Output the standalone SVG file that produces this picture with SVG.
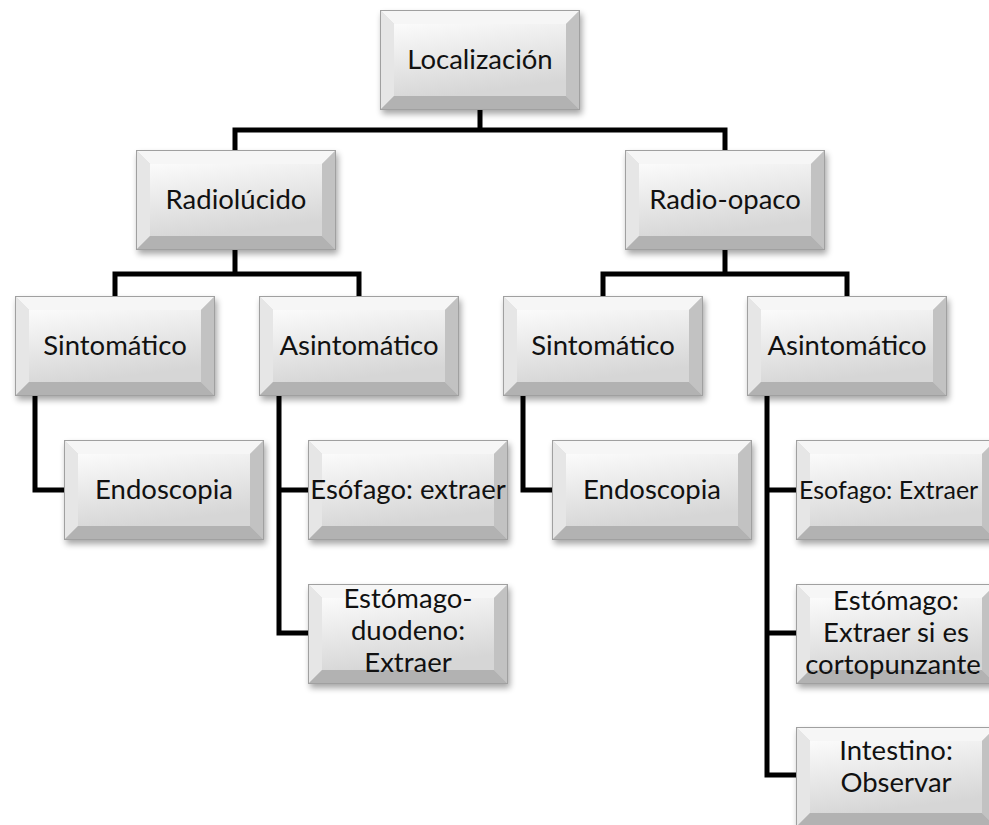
<svg xmlns="http://www.w3.org/2000/svg" xmlns:xlink="http://www.w3.org/1999/xlink" width="989" height="825" viewBox="0 0 989 825">
<style>
  .lbl { font-family: Lato, "Liberation Sans", sans-serif; font-size: 27.5px; fill: #111; text-anchor: middle; }
  .conn { fill: none; stroke: #000; stroke-width: 5; stroke-linejoin: miter; stroke-linecap: square; }
</style>
<defs>
  <linearGradient id="face" x1="0" y1="0" x2="0.3" y2="1">
    <stop offset="0" stop-color="#fbfbfb"/>
    <stop offset="1" stop-color="#d6d6d6"/>
  </linearGradient>
  <filter id="sh" x="-10%" y="-10%" width="120%" height="130%">
    <feGaussianBlur stdDeviation="3"/>
  </filter>
  <g id="box">
    <rect x="2" y="4" width="200" height="100" fill="#000" opacity="0.35" filter="url(#sh)"/>
    <rect x="0" y="0" width="200" height="100" fill="#d9d9d9"/>
    <polygon points="0,0 200,0 186,14 14,14" fill="#f6f6f6"/>
    <polygon points="0,0 14,14 14,86 0,100" fill="#e6e6e6"/>
    <polygon points="200,0 200,100 186,86 186,14" fill="#c2c2c2"/>
    <polygon points="0,100 14,86 186,86 200,100" fill="#b2b2b2"/>
    <rect x="14" y="14" width="172" height="72" fill="url(#face)"/>
    <rect x="0.5" y="0.5" width="199" height="99" fill="none" stroke="#a0a0a0" stroke-width="1"/>
  </g>
</defs>
<rect width="989" height="825" fill="#fff"/>
<g id="connectors">
  <path class="conn" d="M480,110 V130 M235,150 V130 H725 V150"/>
  <path class="conn" d="M235,250 V274 M115,296 V274 H359 V296"/>
  <path class="conn" d="M725,250 V274 M603,296 V274 H847 V296"/>
  <path class="conn" d="M35,396 V490 H64"/>
  <path class="conn" d="M279,396 V633 H308 M279,490 H308"/>
  <path class="conn" d="M523,396 V490 H552"/>
  <path class="conn" d="M767,396 V775 H796 M767,490 H796 M767,633 H796"/>
</g>
<g id="n-localizacion"><use xlink:href="#box" x="380" y="10"/><text class="lbl" x="480" y="69">Localización</text></g>
<g id="n-radiolucido"><use xlink:href="#box" x="136" y="150"/><text class="lbl" x="236" y="209">Radiolúcido</text></g>
<g id="n-radioopaco"><use xlink:href="#box" x="625" y="150"/><text class="lbl" x="725" y="209">Radio-opaco</text></g>
<g id="n-sint-l"><use xlink:href="#box" x="15" y="296"/><text class="lbl" x="115" y="355">Sintomático</text></g>
<g id="n-asint-l"><use xlink:href="#box" x="259" y="296"/><text class="lbl" x="359" y="355">Asintomático</text></g>
<g id="n-sint-r"><use xlink:href="#box" x="503" y="296"/><text class="lbl" x="603" y="355">Sintomático</text></g>
<g id="n-asint-r"><use xlink:href="#box" x="747" y="296"/><text class="lbl" x="847" y="355">Asintomático</text></g>
<g id="n-endo-l"><use xlink:href="#box" x="64" y="440"/><text class="lbl" x="164" y="499">Endoscopia</text></g>
<g id="n-esof-l"><use xlink:href="#box" x="308" y="440"/><text class="lbl" x="408" y="499">Esófago: extraer</text></g>
<g id="n-estom-l"><use xlink:href="#box" x="308" y="584"/><text class="lbl" x="408" y="608">Estómago-</text><text class="lbl" x="408" y="640">duodeno:</text><text class="lbl" x="408" y="672">Extraer</text></g>
<g id="n-endo-r"><use xlink:href="#box" x="552" y="440"/><text class="lbl" x="652" y="499">Endoscopia</text></g>
<g id="n-esof-r"><use xlink:href="#box" x="796" y="440"/><text class="lbl" x="799" y="499" style="text-anchor:start;font-size:25px">Esofago: Extraer</text></g>
<g id="n-estom-r"><use xlink:href="#box" x="796" y="584"/><text class="lbl" x="896" y="610">Estómago:</text><text class="lbl" x="896" y="642">Extraer si es</text><text class="lbl" x="893" y="674">cortopunzante</text></g>
<g id="n-intest-r"><use xlink:href="#box" x="796" y="727"/><text class="lbl" x="896" y="760">Intestino:</text><text class="lbl" x="896" y="792">Observar</text></g>
</svg>
